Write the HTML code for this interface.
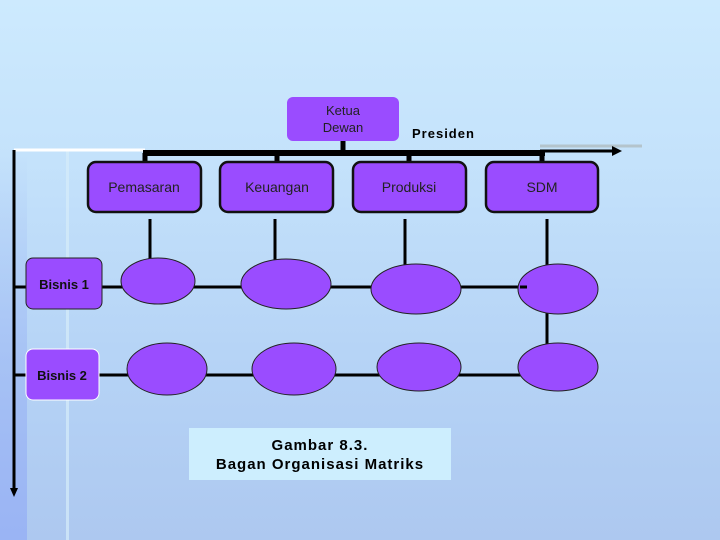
<!DOCTYPE html>
<html><head><meta charset="utf-8"><style>
html,body{margin:0;padding:0}
body{width:720px;height:540px;overflow:hidden;background:linear-gradient(180deg,#cdeafe 0%,#c4e2fb 30%,#b6d4f6 65%,#adc8f0 100%);position:relative;font-family:"Liberation Sans",sans-serif}
</style></head><body>
<div style="position:absolute;left:0;top:150px;width:27px;height:390px;background:linear-gradient(180deg,rgba(160,190,245,0) 0%,#9ab4f4 100%)"></div>
<div style="position:absolute;left:66px;top:150px;width:3px;height:390px;background:#d6ecfa;opacity:.7"></div>
<svg width="720" height="540" style="position:absolute;left:0;top:0" font-family="Liberation Sans, sans-serif">
<line x1="540" y1="146" x2="642" y2="146" stroke="#b4c4cc" stroke-width="3"/>
<line x1="14" y1="150" x2="145" y2="150" stroke="#fff" stroke-width="3"/>
<line x1="14" y1="150" x2="14" y2="490" stroke="#000" stroke-width="3"/>
<polygon points="10,488 18,488 14,497" fill="#000"/>
<line x1="343" y1="141" x2="343" y2="155" stroke="#000" stroke-width="5"/>
<line x1="143" y1="153" x2="545" y2="153" stroke="#000" stroke-width="6"/>
<line x1="540" y1="151" x2="615" y2="151" stroke="#000" stroke-width="3"/>
<polygon points="612,146 622,151 612,156" fill="#000"/>
<g stroke="#000" stroke-width="5">
<line x1="145" y1="153" x2="145" y2="163"/><line x1="277" y1="153" x2="277" y2="163"/>
<line x1="409" y1="153" x2="409" y2="163"/><line x1="542" y1="153" x2="542" y2="163"/>
</g>
<g stroke="#000" stroke-width="3">
<line x1="150" y1="219" x2="150" y2="264"/><line x1="275" y1="219" x2="275" y2="260"/>
<line x1="405" y1="219" x2="405" y2="266"/><line x1="547" y1="219" x2="547" y2="266"/>
<line x1="547" y1="312" x2="547" y2="345"/>
<line x1="14" y1="287" x2="525" y2="287"/>
<line x1="14" y1="375" x2="525" y2="375"/>
</g>
<rect x="287" y="97" width="112" height="44" rx="6" fill="#9a4cff"/>
<text x="343" y="115" font-size="13" fill="#222" text-anchor="middle">Ketua</text>
<text x="343" y="132" font-size="13" fill="#222" text-anchor="middle">Dewan</text>
<text x="412" y="138" font-size="13" font-weight="bold" fill="#000" letter-spacing="1">Presiden</text>
<g fill="#9a4cff" stroke="#111" stroke-width="2.5">
<rect x="88" y="162" width="113" height="50" rx="8"/>
<rect x="220" y="162" width="113" height="50" rx="8"/>
<rect x="353" y="162" width="113" height="50" rx="8"/>
<rect x="486" y="162" width="112" height="50" rx="8"/>
</g>
<g font-size="14" fill="#222" text-anchor="middle">
<text x="144" y="192">Pemasaran</text><text x="277" y="192">Keuangan</text>
<text x="409" y="192">Produksi</text><text x="542" y="192">SDM</text>
</g>
<g fill="#9a4cff" stroke="#222" stroke-width="1">
<rect x="26" y="258" width="76" height="51" rx="7"/>
<rect x="26" y="349" width="73" height="51" rx="7" stroke="#fff"/>
<ellipse cx="158" cy="281" rx="37" ry="23"/>
<ellipse cx="286" cy="284" rx="45" ry="25"/>
<ellipse cx="416" cy="289" rx="45" ry="25"/>
<ellipse cx="558" cy="289" rx="40" ry="25"/>
<ellipse cx="167" cy="369" rx="40" ry="26"/>
<ellipse cx="294" cy="369" rx="42" ry="26"/>
<ellipse cx="419" cy="367" rx="42" ry="24"/>
<ellipse cx="558" cy="367" rx="40" ry="24"/>
</g>
<line x1="520" y1="287" x2="527" y2="287" stroke="#000" stroke-width="3"/>
<text x="64" y="289" font-size="13" font-weight="bold" fill="#111" text-anchor="middle">Bisnis 1</text>
<text x="62" y="380" font-size="13" font-weight="bold" fill="#111" text-anchor="middle">Bisnis 2</text>
<rect x="189" y="428" width="262" height="52" fill="#cdeefe"/>
<text x="320" y="450" font-size="15" font-weight="bold" fill="#000" text-anchor="middle" letter-spacing="1">Gambar 8.3.</text>
<text x="320" y="469" font-size="15" font-weight="bold" fill="#000" text-anchor="middle" letter-spacing="1">Bagan Organisasi Matriks</text>
</svg>
</body></html>
